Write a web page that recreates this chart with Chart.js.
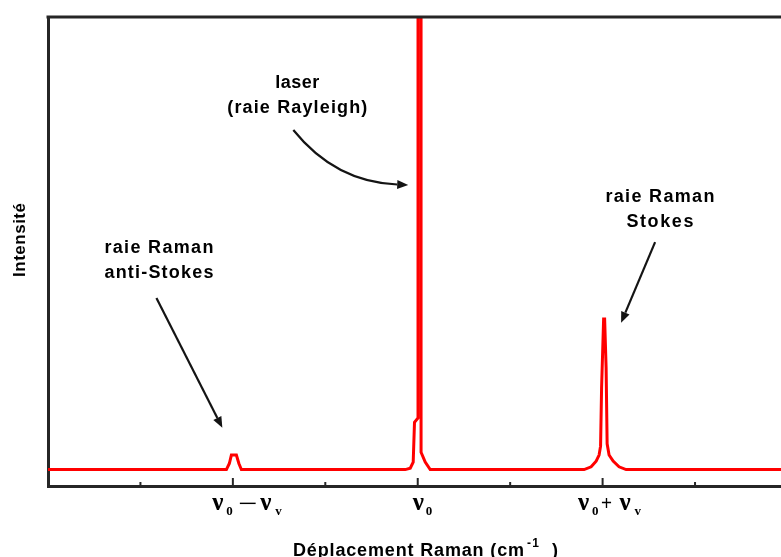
<!DOCTYPE html>
<html><head><meta charset="utf-8">
<script src="https://cdn.jsdelivr.net/npm/chart.js@4/dist/chart.umd.min.js"></script>
<style>html,body{margin:0;padding:0;background:#fff;overflow:hidden}#wrap{width:781px;height:557px}</style>
</head><body><div id="wrap"><canvas id="c" width="781" height="557"></canvas></div>
<script>
// ---- data (x in tick units, y in % of the axis height) ----
const shiftX = [0, 1.930, 1.962, 1.984, 2.038, 2.065, 2.092,
  3.865, 3.919, 3.951, 3.965, 4.003, 4.003, 4.036, 4.036, 4.081, 4.135,
  5.800, 5.876, 5.930, 5.962, 5.978, 5.989, 6.011, 6.022, 6.038, 6.049, 6.070, 6.114, 6.178, 6.254, 7.93];
const intensity = [3.5, 3.5, 4.8, 6.6, 6.6, 4.8, 3.5,
  3.5, 3.8, 5.1, 13.6, 14.5, 110, 110, 7.2, 5.1, 3.5,
  3.5, 4.1, 5.3, 6.6, 8.5, 20.9, 35.6, 35.6, 25.2, 9.0, 6.6, 5.3, 4.1, 3.5, 3.5];
const minorTicks = [1, 3, 5, 7];
const majorTicks = [2, 4, 6];
const tickLabels = [
  [{t:'ν'}, {t:'0', sub:true}, {t:'−', op:true}, {t:'ν'}, {t:'v', sub:true}],
  [{t:'ν'}, {t:'0', sub:true}],
  [{t:'ν'}, {t:'0', sub:true}, {t:'+', op:true}, {t:'ν'}, {t:'v', sub:true}]
];
const xTitle = ['Déplacement Raman (cm', '-1', ')'];
const yTitle = 'Intensité';
const notes = [
  {lines:['laser', '(raie Rayleigh)'], x:2.697, y:[84.9, 79.5], w:[44, 140]},
  {lines:['raie Raman', 'anti-Stokes'], x:1.2, y:[49.6, 44.3], w:[109, 109]},
  {lines:['raie Raman', 'Stokes'], x:6.62, y:[60.6, 55.3], w:[109, 67]}
];
const arrows = [
  {from:[2.654, 75.9], ctrl:[3.108, 64.8], to:[3.897, 64.2]},
  {from:[1.173, 40.1], ctrl:[1.53, 26.2], to:[1.886, 12.4]},
  {from:[6.568, 52.0], ctrl:[6.384, 43.4], to:[6.200, 34.8]}
];

// ---- layout / style ----
const frameColor = '#262626';
const labelOffsets = [
  [{dx:-20.5}, {dx:-6.5}, {dx:5.5, w:19}, {dx:27.5}, {dx:42.5}],
  [{dx:-5}, {dx:8}],
  [{dx:-24.5}, {dx:-10.5}, {dx:-1.5, w:11}, {dx:17}, {dx:32}]
];

function fitText(ctx, str, left, baseline, width) {
  ctx.letterSpacing = '0px';
  const w0 = ctx.measureText(str).width;
  const n = Array.from(str).length;
  const ls = n > 1 ? (width - w0) / (n - 1) : 0;
  ctx.letterSpacing = ls + 'px';
  ctx.textAlign = 'left';
  ctx.fillText(str, left, baseline);
  ctx.letterSpacing = '0px';
}

const deco = {
  id: 'deco',
  afterDraw(chart) {
    const {ctx, chartArea: ca, scales: {x, y}} = chart;
    ctx.save();
    ctx.strokeStyle = frameColor; ctx.lineWidth = 3;
    ctx.beginPath(); ctx.moveTo(ca.left - 1.5, ca.top); ctx.lineTo(ca.right, ca.top); ctx.stroke();
    ctx.fillStyle = frameColor;
    minorTicks.forEach(v => { const px = x.getPixelForValue(v); ctx.fillRect(px - 1, ca.bottom - 4, 2, 3); });
    majorTicks.forEach(v => { const px = x.getPixelForValue(v); ctx.fillRect(px - 1, ca.bottom - 8, 2, 7); });
    ctx.fillStyle = '#000';
    ctx.textBaseline = 'alphabetic';
    majorTicks.forEach((v, i) => {
      const px = x.getPixelForValue(v);
      tickLabels[i].forEach((seg, j) => {
        const o = labelOffsets[i][j];
        if (seg.op) {
          ctx.font = '20px "Liberation Sans"';
          const w0 = ctx.measureText(seg.t).width;
          ctx.save();
          ctx.translate(px + o.dx, ca.bottom + 24);
          ctx.scale(o.w / w0, 1);
          ctx.fillText(seg.t, 0, 0);
          ctx.restore();
        } else if (seg.sub) {
          ctx.font = 'bold 13px "Liberation Serif"';
          ctx.fillText(seg.t, px + o.dx, ca.bottom + 29);
        } else {
          ctx.font = 'bold 25px "Liberation Serif"';
          ctx.fillText(seg.t, px + o.dx, ca.bottom + 24);
        }
      });
    });
    ctx.font = 'bold 18px "Liberation Sans"';
    notes.forEach(n => {
      const cx = x.getPixelForValue(n.x);
      n.lines.forEach((s, k) => fitText(ctx, s, cx - n.w[k] / 2, y.getPixelForValue(n.y[k]), n.w[k]));
    });
    ctx.strokeStyle = '#141414'; ctx.fillStyle = '#141414'; ctx.lineWidth = 2.2;
    arrows.forEach(a => {
      const p0 = [x.getPixelForValue(a.from[0]), y.getPixelForValue(a.from[1])];
      const c = [x.getPixelForValue(a.ctrl[0]), y.getPixelForValue(a.ctrl[1])];
      const p1 = [x.getPixelForValue(a.to[0]), y.getPixelForValue(a.to[1])];
      const ang = Math.atan2(p1[1] - c[1], p1[0] - c[0]);
      const L = 11, W = 4.5;
      const bx = p1[0] - L * Math.cos(ang), by = p1[1] - L * Math.sin(ang);
      ctx.beginPath(); ctx.moveTo(p0[0], p0[1]); ctx.quadraticCurveTo(c[0], c[1], bx, by); ctx.stroke();
      ctx.beginPath();
      ctx.moveTo(p1[0], p1[1]);
      ctx.lineTo(bx + W * Math.sin(ang), by - W * Math.cos(ang));
      ctx.lineTo(bx - W * Math.sin(ang), by + W * Math.cos(ang));
      ctx.closePath(); ctx.fill();
    });
    ctx.fillStyle = '#000';
    ctx.font = 'bold 18px "Liberation Sans"';
    fitText(ctx, xTitle[0], 293, 556, 231);
    ctx.font = 'bold 12px "Liberation Sans"';
    fitText(ctx, xTitle[1], 527, 547, 12);
    ctx.font = 'bold 18px "Liberation Sans"';
    fitText(ctx, xTitle[2], 552, 556, 6);
    ctx.save();
    ctx.translate(25, 240); ctx.rotate(-Math.PI / 2);
    ctx.font = 'bold 17px "Liberation Sans"';
    fitText(ctx, yTitle, -37, 0, 74);
    ctx.restore();
    ctx.restore();
  }
};

new Chart(document.getElementById('c'), {
  type: 'scatter',
  data: { datasets: [{
    data: shiftX.map((v, i) => ({x: v, y: intensity[i]})),
    showLine: true, borderColor: '#ff0000', borderWidth: 3, pointRadius: 0, tension: 0, fill: false
  }]},
  options: {
    responsive: false, animation: false, devicePixelRatio: 1,
    layout: { autoPadding: false, padding: {left: 48, top: 17, right: 0, bottom: 71} },
    plugins: { legend: {display: false}, tooltip: {enabled: false} },
    scales: {
      x: { type: 'linear', min: 0, max: 7.93, z: 1,
           ticks: {display: false}, grid: {display: false, drawTicks: false},
           border: {display: true, color: frameColor, width: 3} },
      y: { type: 'linear', min: 0, max: 100, z: 1,
           ticks: {display: false}, grid: {display: false, drawTicks: false},
           border: {display: true, color: frameColor, width: 3} }
    }
  },
  plugins: [deco]
});
</script></body></html>
